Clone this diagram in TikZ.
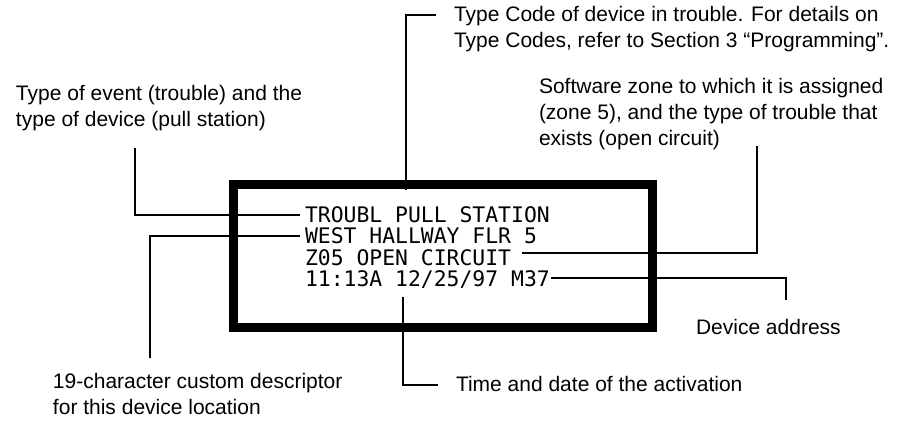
\documentclass[tikz,border=0pt]{standalone}
\usepackage{fontspec}
\setmainfont{Liberation Sans}
\newfontfamily\lcdfont{DejaVu Sans Mono}
\tikzset{
  lbl/.style={anchor=base west,align=left,inner sep=0pt,font=\fontsize{10.5}{13}\selectfont},
  lcd/.style={anchor=base west,inner sep=2pt,font=\lcdfont\fontsize{10.7}{13}\selectfont}
}
\begin{document}
\begin{tikzpicture}[x=0.5pt,y=-0.5pt,line width=1pt]
  \useasboundingbox (0,0) rectangle (900,421);

  % 显示屏
  \draw[line width=4.5pt] (233,185) rectangle (652,328);
  \node[lcd] (lcd1) at (300,223) {TROUBL PULL STATION};
  \node[lcd] (lcd2) at (300,244) {WEST HALLWAY FLR 5};
  \node[lcd] (lcd3) at (300,265.5) {Z05 OPEN CIRCUIT};
  \node[lcd] (lcd4) at (300,287) {11:13A 12/25/97 M37};

  % 说明文字（基线为末行）
  \node[lbl] (code) at (453,48) {Type Code of device in trouble. For details on\\Type Codes, refer to Section 3 “Programming”.};
  \node[lbl] (event) at (15,127) {Type of event (trouble) and the\\type of device (pull station)};
  \node[lbl] (zone) at (538,146) {Software zone to which it is assigned\\(zone 5), and the type of trouble that\\exists (open circuit)};
  \node[lbl] (addr) at (695,335) {Device address};
  \node[lbl] (time) at (455,392) {Time and date of the activation};
  \node[lbl] (desc) at (52,415) {19-character custom descriptor\\for this device location};

  % 引线端点
  \coordinate (c1) at (406,190);
  \coordinate (c2) at (436,15);
  \coordinate (e1) at (135,148);
  \coordinate (d1) at (150,358);
  \coordinate (z1) at (757,146);
  \coordinate (m1) at (786,300);
  \coordinate (t1) at (403,297);

  % 引线
  \draw (c1) |- (c2);
  \draw (e1) |- (lcd1.west);
  \draw (lcd2.west) -| (d1);
  \draw ([xshift=3pt,yshift=2.5pt]lcd3.east) -| (z1);
  \draw ([xshift=-2pt,yshift=1pt]lcd4.east) -| (m1);
  \draw (t1) |- ([xshift=-8.5pt,yshift=3.5pt]time.base west);
\end{tikzpicture}
\end{document}
